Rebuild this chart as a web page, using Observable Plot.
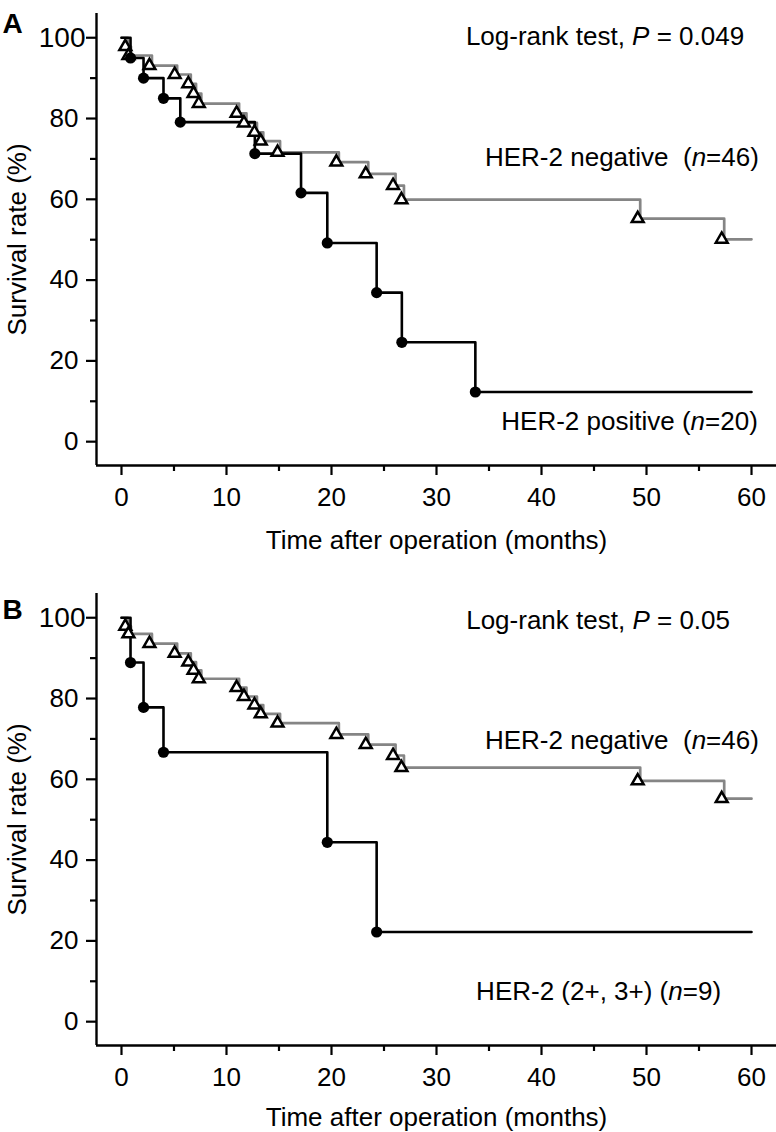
<!DOCTYPE html>
<html>
<head>
<meta charset="utf-8">
<script src="https://cdn.jsdelivr.net/npm/d3@7"></script>
<script src="https://cdn.jsdelivr.net/npm/@observablehq/plot@0.6"></script>
<style>
html, body { margin: 0; padding: 0; background: #fff; }
#chart { width: 776px; }
#chart svg { display: block; }
</style>
</head>
<body>
<div id="chart"></div>
<script>
// ---------- data ----------
const xTicks = [0, 10, 20, 30, 40, 50, 60];
const xMinorTicks = [5, 15, 25, 35, 45, 55];
const yTicks = [0, 20, 40, 60, 80];
const yTopTick = [100];
const yMinorTicks = [10, 30, 50, 70, 90];
const followUpEnd = 60;

// Panel A: HER-2 negative (n=46), event times (months) and survival (%) after each event
const aNegTime = [0.6, 0.9, 2.9, 5.3, 6.6, 7.1, 7.6, 11.2, 11.9, 12.9, 13.5, 15.1, 20.7, 23.5, 26.1, 26.9, 49.4, 57.4];
const aNegSurv = [97.8, 95.6, 93.1, 90.9, 88.6, 86.2, 83.7, 81.3, 78.9, 76.6, 74.4, 71.6, 69.2, 66.3, 63.4, 59.9, 55.2, 50.1];
// Panel A: HER-2 positive (n=20)
const aPosTime = [0.86, 2.1, 4.0, 5.6, 12.7, 17.1, 19.6, 24.3, 26.7, 33.7];
const aPosSurv = [95.0, 90.0, 85.0, 79.1, 71.3, 61.6, 49.2, 36.9, 24.6, 12.3];

// Panel B: HER-2 negative (n=46)
const bNegTime = [0.6, 0.9, 2.9, 5.3, 6.6, 7.1, 7.6, 11.2, 11.9, 12.9, 13.5, 15.1, 20.7, 23.5, 26.1, 26.9, 49.4, 57.4];
const bNegSurv = [97.9, 96.0, 93.6, 91.2, 89.0, 87.0, 84.9, 82.7, 80.5, 78.4, 76.2, 73.9, 71.1, 68.6, 65.9, 62.9, 59.6, 55.2];
// Panel B: HER-2 (2+, 3+) (n=9)
const bPosTime = [0.86, 2.1, 4.0, 19.6, 24.3];
const bPosSurv = [88.9, 77.8, 66.7, 44.4, 22.2];

// Annotations
const aLabels = ["Log-rank test, P = 0.049", "HER-2 negative  (n=46)", "HER-2 positive (n=20)"];
const aLabelX = [59.3, 60.7, 60.6];
const aLabelY = [98.1, 68.2, 2.8];
const bLabels = ["Log-rank test, P = 0.05", "HER-2 negative  (n=46)", "HER-2 (2+, 3+) (n=9)"];
const bLabelX = [57.95, 60.7, 57.1];
const bLabelY = [97.1, 67.6, 5.3];

const xLabel = "Time after operation (months)";
const yLabel = "Survival rate (%)";
const xDomain = [-2.38, 62.38];
const yDomain = [-5.9, 106];

// ---------- helpers ----------
function stepData(times, survs) {
  return [{t: 0, s: 100}]
    .concat(times.map((t, i) => ({t, s: survs[i]})))
    .concat([{t: followUpEnd, s: survs[survs.length - 1]}]);
}
function events(times, survs) {
  return times.map((t, i) => ({t, s: survs[i]}));
}

function italicize(svg) {
  svg.querySelectorAll("text").forEach(t => {
    if (t.querySelector("tspan")) return;
    const s = t.textContent;
    const re = /P(?= =)|(?<=\()n(?==)/g;
    if (!/\(n=|P =/.test(s)) return;
    t.textContent = "";
    t.style.whiteSpace = "pre";
    let last = 0, m;
    const add = (str, it) => {
      const ts = document.createElementNS("http://www.w3.org/2000/svg", "tspan");
      ts.textContent = str;
      if (it) ts.setAttribute("font-style", "italic");
      t.appendChild(ts);
    };
    while ((m = re.exec(s))) {
      if (m.index > last) add(s.slice(last, m.index), false);
      add(m[0], true);
      last = m.index + m[0].length;
    }
    if (last < s.length) add(s.slice(last), false);
  });
}

function panel(cfg) {
  const ann = cfg.labels.map((label, i) => ({label, x: cfg.labelX[i], y: cfg.labelY[i]}));
  const svg = Plot.plot({
    width: 776,
    height: cfg.height,
    marginLeft: 96,
    marginRight: 0,
    marginTop: 13,
    marginBottom: cfg.height - 465,
    style: {fontFamily: "'Liberation Sans', Arial, Helvetica, sans-serif", fontSize: "26px", color: "#000", background: "#fff", overflow: "visible"},
    x: {domain: xDomain},
    y: {domain: yDomain},
    marks: [
      Plot.ruleX([xDomain[0]], {stroke: "#000", strokeWidth: 2.4}),
      Plot.ruleY([yDomain[0]], {stroke: "#000", strokeWidth: 2.4}),
      Plot.axisX(xTicks, {tickSize: 10, tickPadding: 12, strokeWidth: 2.2, label: null}),
      Plot.axisX(xMinorTicks, {tickSize: 6, strokeWidth: 2.2, fill: "none", label: null}),
      Plot.axisY(yTicks, {tickSize: 10, tickPadding: 8, strokeWidth: 2.2, label: null}),
      Plot.axisY(yTopTick, {tickSize: 10, tickPadding: 1, strokeWidth: 2.2, label: null, fontSize: 28}),
      Plot.axisY(yMinorTicks, {tickSize: 6, strokeWidth: 2.2, fill: "none", label: null}),
      Plot.line(stepData(cfg.negTime, cfg.negSurv), {x: "t", y: "s", curve: "step-after", stroke: "#858585", strokeWidth: 2.7}),
      Plot.line(stepData(cfg.posTime, cfg.posSurv), {x: "t", y: "s", curve: "step-after", stroke: "#000", strokeWidth: 2.6}),
      Plot.dot(events(cfg.negTime, cfg.negSurv), {x: "t", y: "s", symbol: "triangle", r: 4.4, fill: "#fff", stroke: "#000", strokeWidth: 2.5, dx: -2.5}),
      Plot.dot(events(cfg.posTime, cfg.posSurv), {x: "t", y: "s", r: 5.6, fill: "#000", stroke: "none"}),
      Plot.text(ann, {x: "x", y: "y", text: "label", textAnchor: "end", lineAnchor: "bottom", fill: "#000"}),
      Plot.text([xLabel], {frameAnchor: "bottom", dy: cfg.xLabelDy, lineAnchor: "bottom", textAnchor: "middle", fill: "#000"}),
      Plot.text([yLabel], {frameAnchor: "left", rotate: -90, dx: -71, lineAnchor: "bottom", textAnchor: "middle", fill: "#000"}),
      Plot.text([cfg.letter], {frameAnchor: "top-left", dx: -94, dy: cfg.letterDy, lineAnchor: "bottom", textAnchor: "start", fontWeight: "bold", fontSize: 28, fill: "#000"})
    ]
  });
  italicize(svg);
  return svg;
}

const root = document.getElementById("chart");
root.appendChild(panel({
  letter: "A", height: 580, letterDy: 19, xLabelDy: 83,
  negTime: aNegTime, negSurv: aNegSurv, posTime: aPosTime, posSurv: aPosSurv,
  labels: aLabels, labelX: aLabelX, labelY: aLabelY
}));
root.appendChild(panel({
  letter: "B", height: 552, letterDy: 25, xLabelDy: 80,
  negTime: bNegTime, negSurv: bNegSurv, posTime: bPosTime, posSurv: bPosSurv,
  labels: bLabels, labelX: bLabelX, labelY: bLabelY
}));
</script>
</body>
</html>
